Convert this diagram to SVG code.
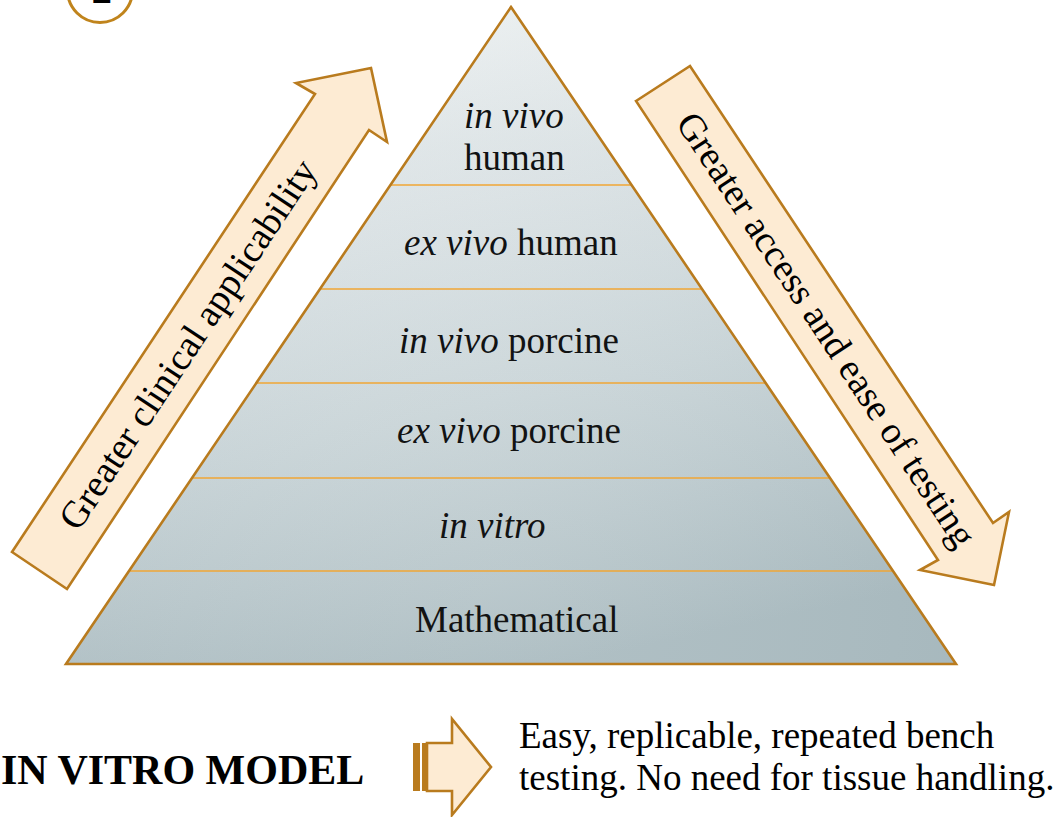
<svg xmlns="http://www.w3.org/2000/svg" width="1058" height="817" viewBox="0 0 1058 817">
  <style>
    .lbl { font-family: "Liberation Serif", "Times New Roman", serif; font-size: 37px; fill: #000; }
    .arw { font-size: 38px; }
    .it { font-style: italic; }
    .band { stroke: none; fill: url(#pyrFill); }
    .sep { stroke: #f0a635; stroke-width: 1.6; fill: none; }
    .outline { stroke: #b97b1e; stroke-width: 2.6; fill: none; stroke-linejoin: miter; }
    .blk { fill: #fdebd3; stroke: #b97b1e; stroke-width: 2.6; stroke-linejoin: miter; }
  </style>
  <defs>
    <linearGradient id="pyrFill" gradientUnits="userSpaceOnUse" x1="420" y1="7" x2="560" y2="664">
      <stop offset="0" stop-color="#f8fafa"/>
      <stop offset="0.3" stop-color="#e3e9eb"/>
      <stop offset="0.6" stop-color="#ccd7da"/>
      <stop offset="1" stop-color="#aabbc0"/>
    </linearGradient>
    <radialGradient id="baseGlow" gradientUnits="userSpaceOnUse" cx="511" cy="600" r="460">
      <stop offset="0" stop-color="#ffffff" stop-opacity="0.12"/>
      <stop offset="1" stop-color="#8ea2a9" stop-opacity="0.18"/>
    </radialGradient>
  </defs>

  <rect width="1058" height="817" fill="#ffffff"/>

  <!-- panel badge, cut by the top edge -->
  <g id="badge">
    <circle cx="100" cy="-10" r="32.5" fill="#ffffff" stroke="#c0841c" stroke-width="3"/>
    <text class="lbl" x="91.5" y="3" style="font-size:42px">2</text>
  </g>

  <!-- pyramid tiers, top to bottom -->
  <g id="tier-invivo-human">
    <polygon class="band" points="511,7 631.6,185 390.4,185"/>
    <text class="lbl"><tspan class="it" x="464" y="128">in vivo</tspan><tspan x="464" y="170">human</tspan></text>
  </g>
  <g id="tier-exvivo-human">
    <polygon class="band" points="390.4,185 631.6,185 702,289 320,289"/>
    <text class="lbl" x="404" y="255"><tspan class="it">ex vivo</tspan> human</text>
  </g>
  <g id="tier-invivo-porcine">
    <polygon class="band" points="320,289 702,289 765.7,383 256.3,383"/>
    <text class="lbl" x="399" y="353"><tspan class="it">in vivo</tspan> porcine</text>
  </g>
  <g id="tier-exvivo-porcine">
    <polygon class="band" points="256.3,383 765.7,383 830,478 192,478"/>
    <text class="lbl" x="397" y="443"><tspan class="it">ex vivo</tspan> porcine</text>
  </g>
  <g id="tier-invitro">
    <polygon class="band" points="192,478 830,478 893,571 129,571"/>
    <text class="lbl it" x="439" y="538">in vitro</text>
  </g>
  <g id="tier-mathematical">
    <polygon class="band" points="129,571 893,571 956,664 66,664"/>
    <text class="lbl" x="415" y="632">Mathematical</text>
  </g>

  <!-- tier separators and outer outline -->
  <g id="pyramid-frame">
    <polygon points="511,7 956,664 66,664" fill="url(#baseGlow)" opacity="0.6"/>
    <line class="sep" x1="391" y1="185" x2="631" y2="185"/>
    <line class="sep" x1="320.5" y1="289" x2="701.5" y2="289"/>
    <line class="sep" x1="257" y1="383" x2="765" y2="383"/>
    <line class="sep" x1="192.5" y1="478" x2="829.5" y2="478"/>
    <line class="sep" x1="129.5" y1="571" x2="892.5" y2="571"/>
    <polygon class="outline" points="511,7 956,664 66,664"/>
  </g>

  <!-- side arrows -->
  <g id="connectors">
    <g id="arrow-clinical">
      <polygon class="blk" points="12,552 315,94 296,83 371,68 387,142 369,130 67,589"/>
      <text class="lbl arw" transform="translate(188,345) rotate(-56.5)" x="-217" y="12">Greater clinical applicability</text>
    </g>
    <g id="arrow-access">
      <polygon class="blk" points="636,101 690,66 993,523 1009,512 994,585 920,570 938,560"/>
      <text class="lbl arw" transform="translate(826,330) rotate(56.6)" x="-256" y="12">Greater access and ease of testing</text>
    </g>
    <g id="arrow-model">
      <rect x="413" y="743" width="7" height="48" fill="#b97b1e"/>
      <rect x="422" y="743" width="4" height="48" fill="#b97b1e"/>
      <polygon class="blk" points="427,743 452,743 452,719 491,767 452,815 452,791 427,791"/>
    </g>
  </g>

  <!-- legend row -->
  <g id="model-title">
    <text class="lbl" x="1" y="784" style="font-size:42px;font-weight:bold">IN VITRO MODEL</text>
  </g>
  <g id="model-note">
    <text class="lbl"><tspan x="519" y="748">Easy, replicable, repeated bench</tspan><tspan x="519" y="790">testing. No need for tissue handling.</tspan></text>
  </g>
</svg>
